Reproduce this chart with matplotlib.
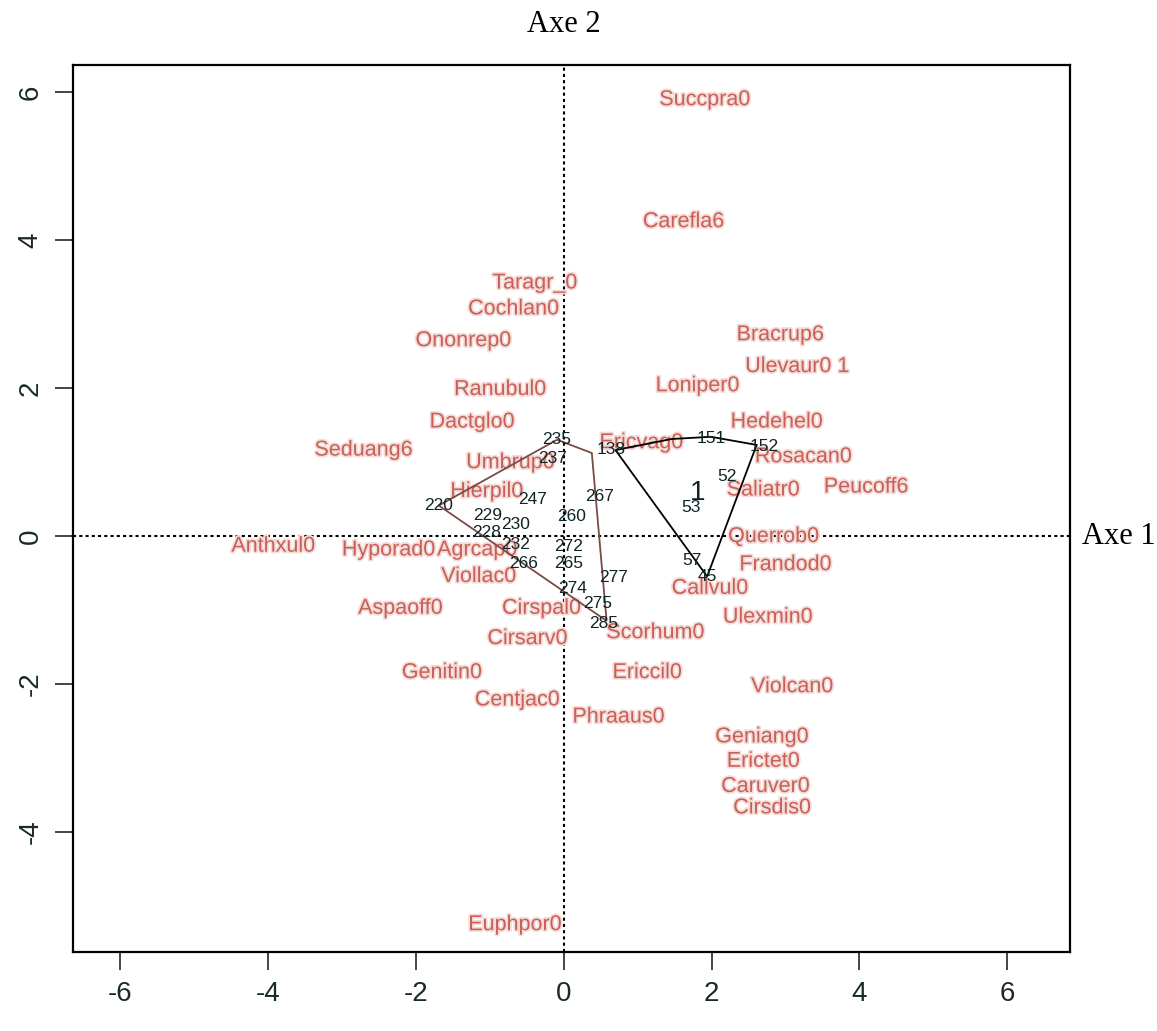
import matplotlib.pyplot as plt
import matplotlib.patheffects as pe

plt.rcParams['axes.unicode_minus'] = False

# especes (etiquettes rouges) : nom, axe 1, axe 2
especes = ["Succpra0", "Carefla6", "Taragr_0", "Cochlan0", "Ononrep0", "Bracrup6",
           "Ulevaur0 1", "Ranubul0", "Loniper0", "Dactglo0", "Hedehel0", "Seduang6",
           "Ericvag0", "Rosacan0", "Umbrup0", "Hierpil0", "Saliatr0", "Peucoff6",
           "Querrob0", "Anthxul0", "Hyporad0", "Agrcap0", "Frandod0", "Viollac0",
           "Callvul0", "Aspaoff0", "Cirspal0", "Ulexmin0", "Scorhum0", "Cirsarv0",
           "Genitin0", "Ericcil0", "Violcan0", "Centjac0", "Phraaus0", "Geniang0",
           "Erictet0", "Caruver0", "Cirsdis0", "Euphpor0"]
esp_x = [1.91, 1.62, -0.39, -0.68, -1.36, 2.93,
         3.16, -0.86, 1.81, -1.24, 2.88, -2.71,
         1.05, 3.24, -0.72, -1.04, 2.70, 4.09,
         2.84, -3.93, -2.37, -1.17, 3.00, -1.15,
         1.98, -2.21, -0.30, 2.76, 1.24, -0.49,
         -1.65, 1.13, 3.09, -0.63, 0.74, 2.68,
         2.70, 2.73, 2.82, -0.66]
esp_y = [5.90, 4.25, 3.42, 3.07, 2.64, 2.72,
         2.29, 1.98, 2.03, 1.54, 1.54, 1.16,
         1.26, 1.07, 0.99, 0.60, 0.62, 0.66,
         -0.01, -0.14, -0.19, -0.19, -0.39, -0.55,
         -0.71, -0.98, -0.98, -1.10, -1.31, -1.39,
         -1.85, -1.85, -2.04, -2.22, -2.45, -2.72,
         -3.05, -3.39, -3.68, -5.26]

# releves (numeros noirs)
releves = ["138", "151", "152", "52", "53", "57", "45",
           "235", "237", "220", "247", "229", "267", "260", "230", "228",
           "232", "272", "266", "265", "277", "274", "275", "285"]
rel_x = [0.64, 1.99, 2.71, 2.21, 1.72, 1.74, 1.94,
         -0.09, -0.15, -1.69, -0.42, -1.03, 0.48, 0.11, -0.65, -1.05,
         -0.65, 0.07, -0.54, 0.07, 0.68, 0.12, 0.46, 0.54]
rel_y = [1.17, 1.32, 1.21, 0.80, 0.38, -0.33, -0.55,
         1.30, 1.05, 0.41, 0.49, 0.28, 0.53, 0.26, 0.15, 0.05,
         -0.12, -0.14, -0.37, -0.37, -0.57, -0.71, -0.91, -1.18]

# enveloppes convexes des deux groupes
env1_x = [0.70, 1.46, 1.99, 2.61, 1.94]
env1_y = [1.16, 1.31, 1.34, 1.23, -0.55]
env2_x = [-1.69, -0.09, 0.38, 0.58]
env2_y = [0.41, 1.30, 1.12, -1.15]

# centre du groupe 1
centre_x, centre_y = 1.81, 0.58

fig = plt.figure(figsize=(11.57, 10.31), dpi=100)
ax = fig.add_axes([0.0631, 0.0766, 0.8617, 0.8604])

ax.axhline(0, color='black', linestyle=(0, (1.5, 1.5)), lw=1.5, zorder=1)
ax.axvline(0, color='black', linestyle=(0, (1.5, 1.5)), lw=1.5, zorder=1)

halo = [pe.withStroke(linewidth=2.5, foreground='#f4dcd8')]
for nom, x, y in zip(especes, esp_x, esp_y):
    ax.text(x, y, nom, color='#c95f58', fontsize=15.5, ha='center', va='center',
            family='Liberation Sans', path_effects=halo, zorder=2)

ax.fill(env1_x, env1_y, fill=False, edgecolor='black', lw=1.3, zorder=3)
ax.fill(env2_x, env2_y, fill=False, edgecolor='#7a4a44', lw=1.3, zorder=3)

for num, x, y in zip(releves, rel_x, rel_y):
    ax.text(x, y, num, color='#0f2424', fontsize=12.5, ha='center', va='center',
            family='Liberation Sans', zorder=4)
ax.text(centre_x, centre_y, "1", color='#0f2424', fontsize=20, ha='center',
        va='center', family='Liberation Sans', zorder=4)

ax.set_xlim(-6.64, 6.85)
ax.set_ylim(-5.63, 6.37)
ax.set_xticks(range(-6, 7, 2))
ax.set_yticks(range(-4, 7, 2))
for s in ax.spines.values():
    s.set_linewidth(1.6)
ax.tick_params(direction='out', length=13, width=1.2, labelsize=20,
               colors='#1a2a2a', pad=8)
for lab in ax.get_xticklabels() + ax.get_yticklabels():
    lab.set_family(['Liberation Sans Narrow', 'Liberation Sans'])
for lab in ax.get_yticklabels():
    lab.set_rotation(90)
    lab.set_va('center')

fig.text(0.487, 0.976, "Axe 2", fontsize=22, family='Liberation Serif',
         ha='center', va='center')
fig.text(0.935, 1 - 536 / 1031, "Axe 1", fontsize=22, family='Liberation Serif',
         ha='left', va='center')

fig.savefig("out.png", dpi=100)
